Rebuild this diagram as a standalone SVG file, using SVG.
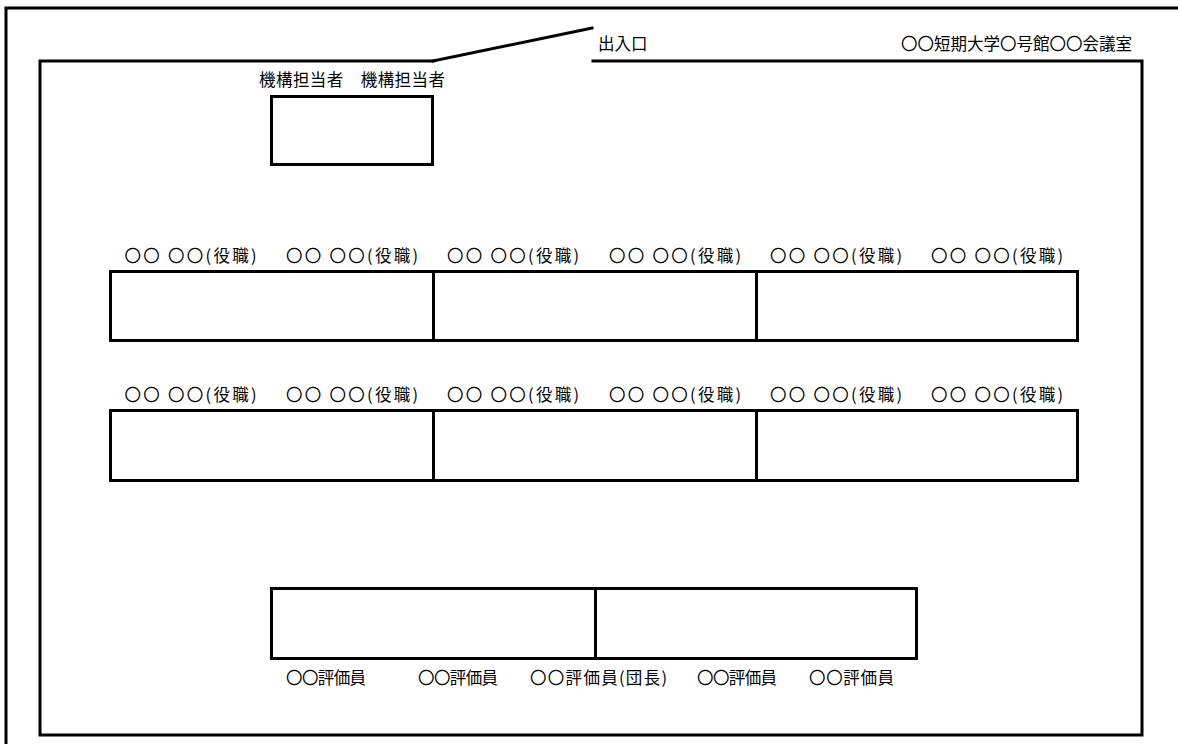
<svg xmlns="http://www.w3.org/2000/svg" width="1178" height="744" viewBox="0 0 1178 744">
<style>
.w{fill:none;stroke:#000;stroke-width:3;stroke-linecap:square}
.b{fill:#fff;stroke:#000;stroke-width:3}
.t{font-family:"Noto Sans CJK JP","Noto Sans CJK SC",sans-serif;font-size:16.5px;fill:#000}
.m{text-anchor:middle}
</style>
<rect width="1178" height="744" fill="#fff"/>
<g id="walls">
<path class="w" d="M1178,8 H6 V744"/>
<path class="w" d="M433,61 H40 V735 H1142 V61 H593"/>
<path class="w" d="M433,61 L592,28" stroke-linecap="round"/>
</g>
<g id="labels-room">
<text class="t" x="598" y="50">出入口</text>
<text class="t" x="1132" y="50" text-anchor="end">〇〇短期大学〇号館〇〇会議室</text>
</g>
<g id="node-kikou">
<text class="t m" x="352" y="86" textLength="186">機構担当者　機構担当者</text>
<rect class="b" x="271.5" y="96.5" width="161" height="68"/>
</g>
<g id="node-row1">
<rect class="b" x="110.5" y="271.5" width="967" height="69"/>
<line class="w" x1="433.5" y1="272" x2="433.5" y2="340"/>
<line class="w" x1="756.5" y1="272" x2="756.5" y2="340"/>
<text class="t m" x="190.5" y="262" textLength="132">〇〇 〇〇(役職)</text>
<text class="t m" x="352" y="262" textLength="132">〇〇 〇〇(役職)</text>
<text class="t m" x="513" y="262" textLength="132">〇〇 〇〇(役職)</text>
<text class="t m" x="675" y="262" textLength="132">〇〇 〇〇(役職)</text>
<text class="t m" x="836" y="262" textLength="132">〇〇 〇〇(役職)</text>
<text class="t m" x="997" y="262" textLength="132">〇〇 〇〇(役職)</text>
</g>
<g id="node-row2">
<rect class="b" x="110.5" y="410.5" width="967" height="70"/>
<line class="w" x1="433.5" y1="411" x2="433.5" y2="480"/>
<line class="w" x1="756.5" y1="411" x2="756.5" y2="480"/>
<text class="t m" x="190.5" y="401" textLength="132">〇〇 〇〇(役職)</text>
<text class="t m" x="352" y="401" textLength="132">〇〇 〇〇(役職)</text>
<text class="t m" x="513" y="401" textLength="132">〇〇 〇〇(役職)</text>
<text class="t m" x="675" y="401" textLength="132">〇〇 〇〇(役職)</text>
<text class="t m" x="836" y="401" textLength="132">〇〇 〇〇(役職)</text>
<text class="t m" x="997" y="401" textLength="132">〇〇 〇〇(役職)</text>
</g>
<g id="node-evaluators">
<rect class="b" x="271.5" y="588.5" width="645" height="70"/>
<line class="w" x1="595.5" y1="589" x2="595.5" y2="658"/>
<text class="t" x="286" y="684" textLength="80">〇〇評価員</text>
<text class="t" x="418" y="684" textLength="80">〇〇評価員</text>
<text class="t" x="530" y="684" textLength="137">〇〇評価員(団長)</text>
<text class="t" x="697" y="684" textLength="80">〇〇評価員</text>
<text class="t" x="809" y="684" textLength="85">〇〇評価員</text>
</g>
<g id="connectors"></g>
</svg>
